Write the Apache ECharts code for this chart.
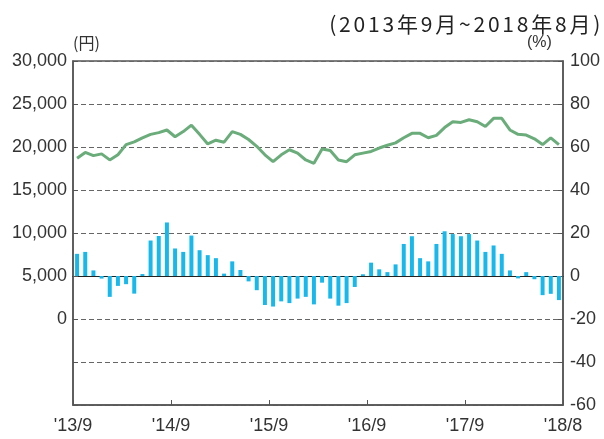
<!DOCTYPE html>
<html>
<head>
<meta charset="utf-8">
<script src="https://cdn.jsdelivr.net/npm/echarts@6/dist/echarts.min.js"></script>
<style>
  html, body { margin: 0; padding: 0; background: #fff; }
  #main { width: 604px; height: 439px; }
</style>
</head>
<body>
<div id="main"></div>
<script>
// 2013/9 - 2018/8, 60 months
var months = [];
for (var y = 2013, m = 9; months.length < 60; m++) {
    if (m > 12) { m = 1; y++; }
    months.push(y + '/' + m);
}
var tickLabels = ["'13/9", "'14/9", "'15/9", "'16/9", "'17/9", "'18/8"];

// line, yen (left axis)
var yenValues = [
    18690, 19370, 19000, 19200, 18500, 19100, 20280, 20600, 21070, 21470,
    21670, 21980, 21190, 21790, 22540, 21470, 20360, 20790, 20560, 21790,
    21470, 20870, 20080, 19090, 18290, 19090, 19680, 19290, 18490, 18100,
    19760, 19600, 18490, 18290, 19090, 19290, 19480, 19880, 20200, 20480,
    21070, 21590, 21590, 21070, 21350, 22260, 22940, 22860, 23170, 22940,
    22380, 23330, 23330, 21980, 21470, 21390, 20950, 20280, 21070, 20280
];
// bars, % (right axis)
var pctValues = [
    10.3, 11.2, 2.6, -1.2, -9.7, -4.6, -3.8, -8.2, 0.9, 16.5,
    18.6, 24.9, 12.8, 11.2, 18.8, 12.0, 9.7, 8.3, 1.1, 6.8,
    2.8, -2.5, -6.6, -13.5, -14.2, -11.8, -12.6, -10.5, -9.7, -13.2,
    -3.1, -10.5, -13.8, -12.6, -5.1, 0.8, 6.2, 3.1, 1.8, 5.4,
    14.9, 18.5, 8.3, 6.8, 14.9, 20.8, 19.5, 18.5, 19.5, 16.5,
    11.2, 14.2, 10.3, 2.6, -1.1, 1.8, -1.5, -8.9, -8.3, -11.2
];

var titleText = '(2013年9月~2018年8月)';

var font = 'Liberation Sans, Arial, sans-serif';
var gridDash = { color: '#666', type: [5, 3], width: 1 };

// spread the title characters out a little, like the printed original
var titleRich = titleText.split('').map(function (ch) { return '{c|' + ch + '}'; }).join('');

var chart = echarts.init(document.getElementById('main'));
chart.setOption({
    animation: false,
    title: {
        text: titleRich,
        right: 0,
        top: 9,
        textStyle: {
            fontWeight: 'normal',
            rich: {
                c: { fontFamily: 'Noto Sans CJK JP', fontSize: 21, fontWeight: 'normal', color: '#222', padding: [0, 1.4] }
            }
        }
    },
    graphic: [
        { type: 'text', left: 73, top: 35, style: { text: '(円)', font: '16px Noto Sans CJK JP', fill: '#333' } },
        { type: 'text', left: 527, top: 35, style: { text: '(%)', font: '16px ' + font, fill: '#333' } }
    ],
    grid: {
        left: 73, right: 41, top: 61, bottom: 34,
        show: true, borderColor: '#555', borderWidth: 1.5, backgroundColor: 'transparent'
    },
    xAxis: [{
        type: 'category',
        data: months,
        axisLine: { onZero: true, onZeroAxisIndex: 1, lineStyle: { color: '#222', width: 1.2 } },
        axisTick: { show: false },
        axisLabel: { show: false },
        splitLine: { show: false }
    }, {
        type: 'value',
        position: 'bottom',
        min: 0, max: 60, interval: 12,
        axisLine: { show: true, onZero: false, lineStyle: { color: '#555', width: 1.5 } },
        axisTick: { show: true, inside: true, length: 5, lineStyle: { color: '#555' } },
        axisLabel: {
            margin: 12, fontFamily: font, fontSize: 18, color: '#333',
            formatter: function (v) { return tickLabels[v / 12] || ''; }
        },
        splitLine: { show: false }
    }],
    yAxis: [{
        type: 'value',
        min: -10000, max: 30000, interval: 5000,
        axisLine: { show: true, lineStyle: { color: '#555', width: 1.5 } },
        axisTick: { show: true, inside: true, length: 5, lineStyle: { color: '#555' } },
        axisLabel: {
            margin: 6, fontFamily: font, fontSize: 18, color: '#333',
            formatter: function (v) { return v < 0 ? '' : v.toLocaleString('en-US'); }
        },
        splitLine: { show: true, lineStyle: gridDash }
    }, {
        type: 'value',
        min: -60, max: 100, interval: 20,
        axisLine: { show: true, lineStyle: { color: '#555', width: 1.5 } },
        axisTick: { show: true, inside: true, length: 5, lineStyle: { color: '#555' } },
        axisLabel: { margin: 7, fontFamily: font, fontSize: 18, color: '#333' },
        splitLine: { show: false }
    }],
    series: [{
        name: '%',
        type: 'bar',
        xAxisIndex: 0,
        yAxisIndex: 1,
        barWidth: 4,
        itemStyle: { color: '#17b9ec' },
        data: pctValues
    }, {
        name: '円',
        type: 'line',
        xAxisIndex: 0,
        yAxisIndex: 0,
        symbol: 'none',
        lineStyle: { color: '#6aac7a', width: 3 },
        data: yenValues
    }]
});
</script>
</body>
</html>
